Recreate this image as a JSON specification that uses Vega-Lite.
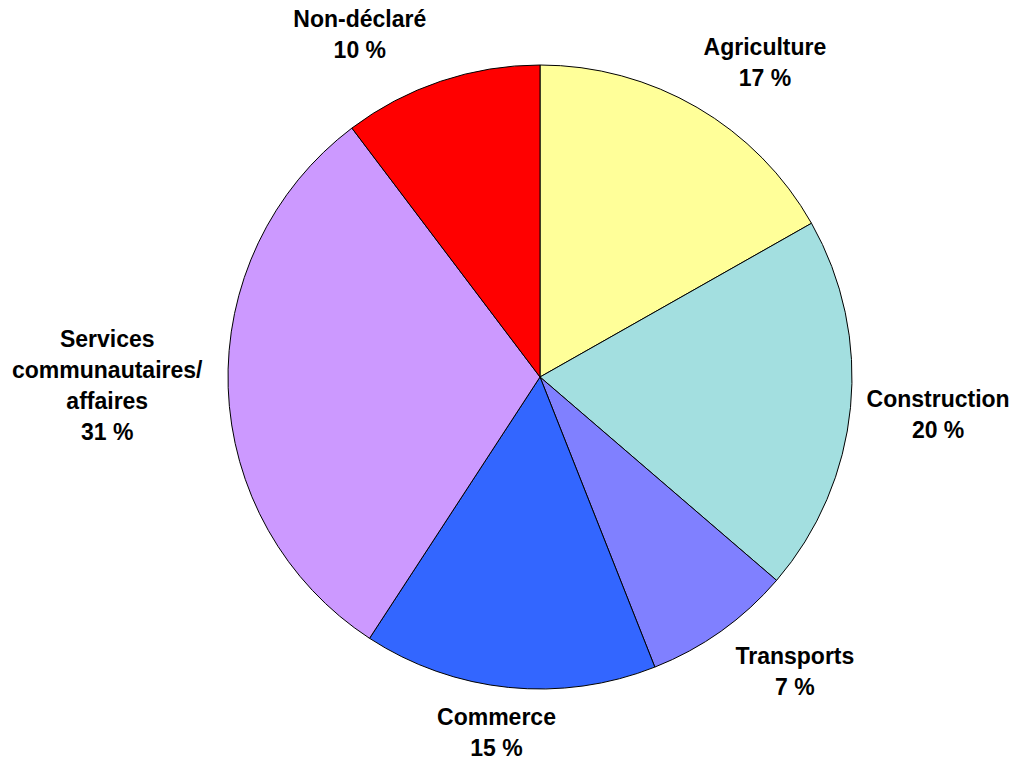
{
  "$schema": "https://vega.github.io/schema/vega-lite/v6.json",
  "autosize": "none",
  "width": 952,
  "height": 754,
  "padding": {"left": 64, "top": 0, "right": 0, "bottom": 7},
  "background": "white",
  "view": {"stroke": null},
  "data": {
    "values": [
      {"o": 1, "cat": "Agriculture", "value": 16.8, "label": "Agriculture\n17 %"},
      {"o": 2, "cat": "Construction", "value": 19.5, "label": "Construction\n20 %"},
      {"o": 3, "cat": "Transports", "value": 7.7, "label": "Transports\n7 %"},
      {"o": 4, "cat": "Commerce", "value": 15.2, "label": "Commerce\n15 %"},
      {"o": 5, "cat": "Services", "value": 30.5, "label": "Services\ncommunautaires/\naffaires\n31 %"},
      {"o": 6, "cat": "Non-déclaré", "value": 10.3, "label": "Non-déclaré\n10 %"}
    ]
  },
  "encoding": {
    "theta": {"field": "value", "type": "quantitative", "stack": true},
    "order": {"field": "o", "type": "quantitative"}
  },
  "layer": [
    {
      "mark": {"type": "arc", "outerRadius": 312, "stroke": "black", "strokeWidth": 1},
      "encoding": {
        "color": {
          "field": "cat",
          "type": "nominal",
          "scale": {
            "domain": ["Agriculture", "Construction", "Transports", "Commerce", "Services", "Non-déclaré"],
            "range": ["#FFFF99", "#A3DFE0", "#8080FF", "#3366FF", "#CC99FF", "#FF0000"]
          },
          "legend": null
        }
      }
    },
    {
      "mark": {
        "type": "text",
        "font": "Liberation Sans",
        "fontWeight": "bold",
        "fontSize": 23,
        "lineHeight": 31,
        "lineBreak": "\n",
        "align": "center",
        "baseline": "middle",
        "color": "black",
        "radius": {"expr": "datum.o == 1 ? 399 : datum.o == 2 ? 399 : datum.o == 3 ? 379 : datum.o == 4 ? 344 : datum.o == 5 ? 409 : 400"},
        "dx": {"expr": "datum.o == 1 ? 24 : datum.o == 2 ? 1 : datum.o == 3 ? 35 : datum.o == 4 ? -9 : datum.o == 5 ? -24 : -53"},
        "dy": {"expr": "datum.o == 1 ? 16 : datum.o == 2 ? -16 : datum.o == 3 ? -29 : datum.o == 4 ? -1 : datum.o == 5 ? -51 : 22"}
      },
      "encoding": {
        "text": {"field": "label", "type": "nominal"}
      }
    }
  ]
}
